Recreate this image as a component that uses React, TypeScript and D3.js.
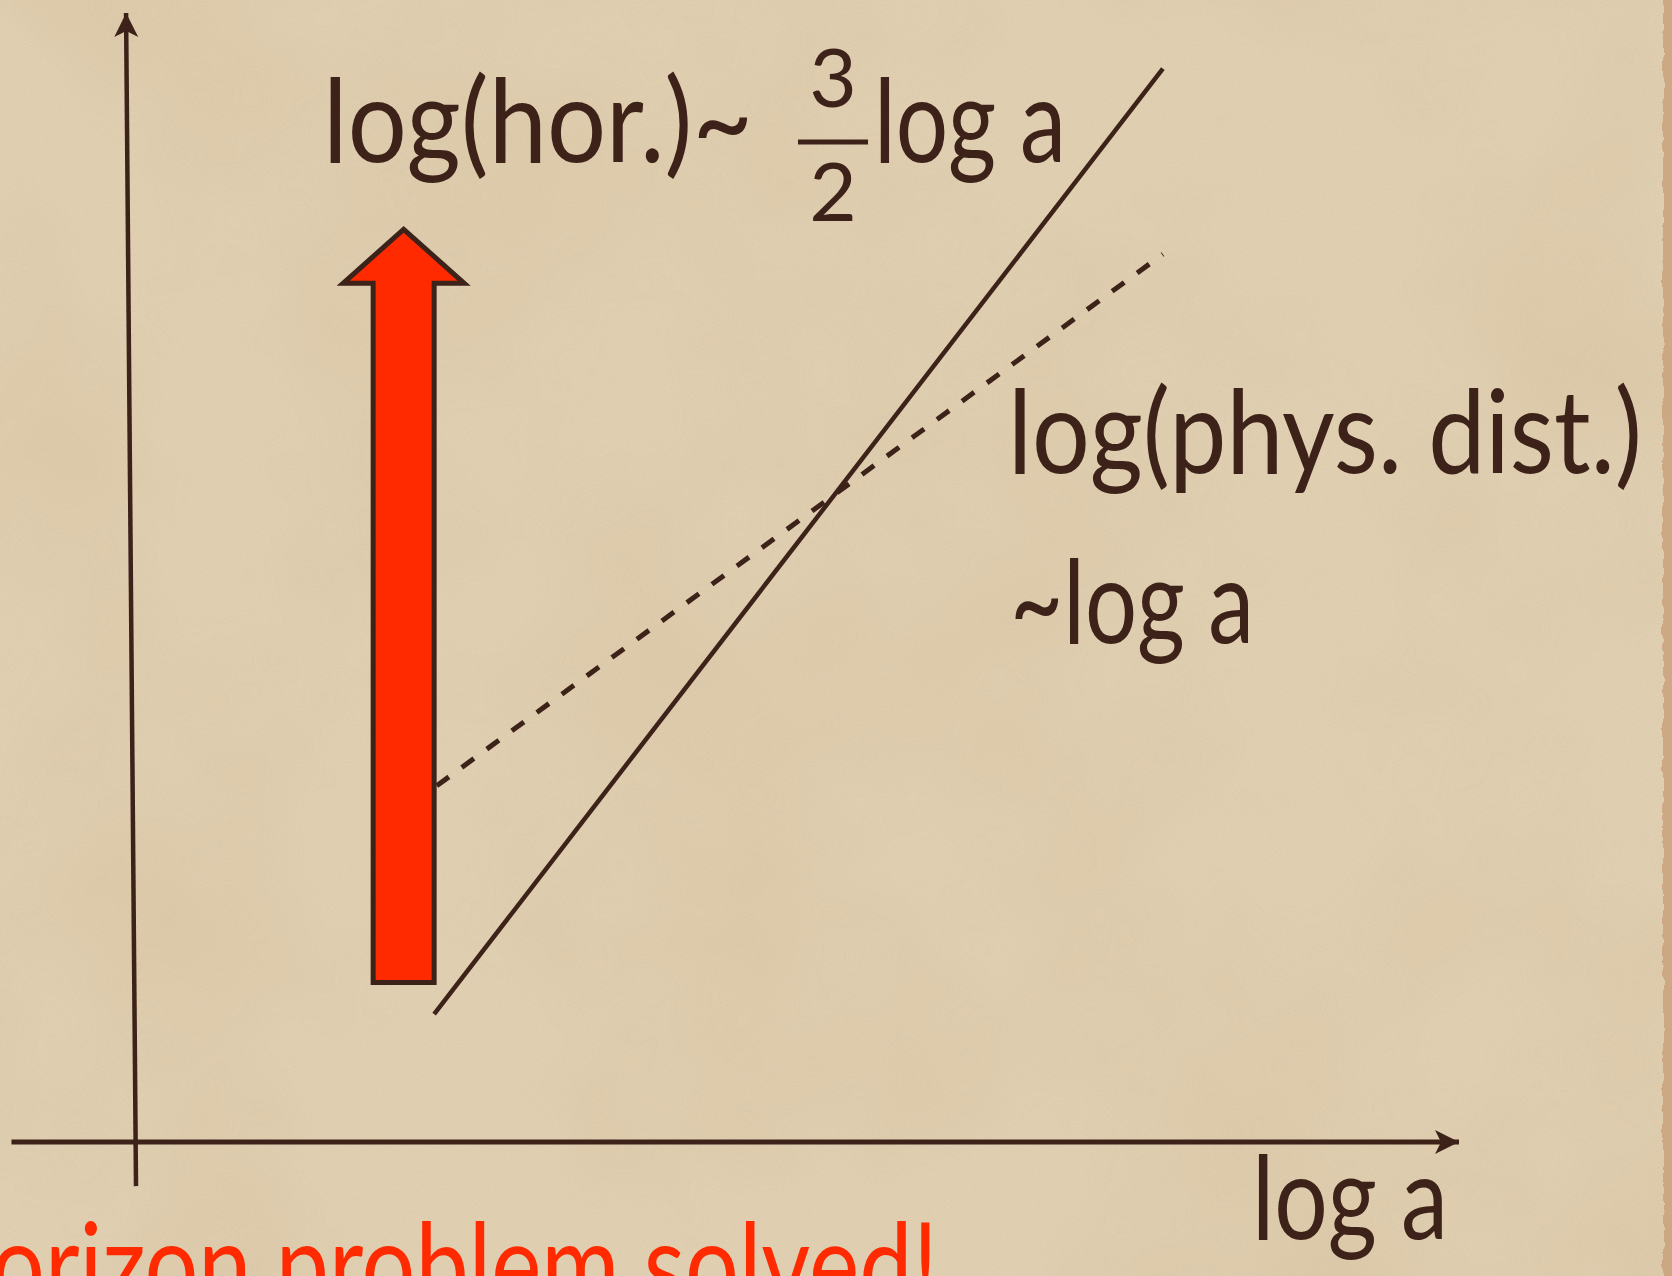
import React from "react";
import * as d3 from "d3";

// Scale factor a on a log axis; both distances on a log axis.
const xExtent = [-0.94, 10]; // log a axis, from left end to arrow tip
const yExtent = [-0.39, 10]; // log distance axis, from bottom end to arrow tip
const yAxisTopOffset = [-0.075]; // the vertical axis leans a little to the left at its tip

// log(horizon) ~ 3/2 log a
const horizonLine = [
  { loga: 2.25, v: 1.13 },
  { loga: 7.75, v: 9.49 },
];
// log(physical distance) ~ log a
const physLine = [
  { loga: 2.27, v: 3.15 },
  { loga: 7.75, v: 7.85 },
];
// inflation: horizon grows at fixed a
const inflationArrow = [{ loga: 2.02, from: 1.41, to: 8.07 }];

const W = 1672;
const H = 1276;
const INK = "#3d2219";
const RED = "#ff2a00";
const FONT = "Lato, 'Open Sans', 'DejaVu Sans', sans-serif";

export default function App() {
  const x = d3.scaleLinear().domain([0, 10]).range([136, 1461]);
  const y = d3.scaleLinear().domain([0, 10]).range([1142, 11]);

  const line = d3
    .line<{ loga: number; v: number }>()
    .x((d) => x(d.loga))
    .y((d) => y(d.v));

  const arrow = inflationArrow[0];
  const cx = x(arrow.loga);
  const shaftHalf = 30.5;
  const headHalf = 60.5;
  const headLen = 54;
  const yb = y(arrow.from);
  const yt = y(arrow.to);
  const arrowPath = d3.path();
  arrowPath.moveTo(cx - shaftHalf, yb);
  arrowPath.lineTo(cx - shaftHalf, yt + headLen);
  arrowPath.lineTo(cx - headHalf, yt + headLen);
  arrowPath.lineTo(cx, yt);
  arrowPath.lineTo(cx + headHalf, yt + headLen);
  arrowPath.lineTo(cx + shaftHalf, yt + headLen);
  arrowPath.lineTo(cx + shaftHalf, yb);
  arrowPath.closePath();

  const textStyle: React.CSSProperties = {
    fontFamily: FONT,
    fontWeight: 400,
    fill: INK,
  };

  return (
    <svg
      width={W}
      height={H}
      viewBox={`0 0 ${W} ${H}`}
      style={{ position: "absolute", left: 0, top: 0, display: "block" }}
    >
      <defs>
        <filter id="mottle" x="0" y="0" width="100%" height="100%">
          <feTurbulence type="fractalNoise" baseFrequency="0.0035" numOctaves="4" seed="7" />
          <feColorMatrix
            type="matrix"
            values="0 0 0 0 0.62  0 0 0 0 0.47  0 0 0 0 0.28  0 0 0 1.6 -0.62"
          />
        </filter>
        <filter id="grain" x="0" y="0" width="100%" height="100%">
          <feTurbulence type="fractalNoise" baseFrequency="0.55" numOctaves="2" seed="3" />
          <feColorMatrix
            type="matrix"
            values="0 0 0 0 0.5  0 0 0 0 0.4  0 0 0 0 0.3  0 0 0 0.9 -0.35"
          />
        </filter>
        <filter id="edge" x="-50%" y="0" width="200%" height="100%">
          <feTurbulence type="fractalNoise" baseFrequency="0.02 0.08" numOctaves="3" seed="11" result="n" />
          <feDisplacementMap in="SourceGraphic" in2="n" scale="6" />
        </filter>
        <marker
          id="tip"
          viewBox="-26 -13 28 26"
          markerWidth={28}
          markerHeight={26}
          refX={0}
          refY={0}
          orient="auto"
          markerUnits="userSpaceOnUse"
        >
          <path d="M0,0 L-24,-12 L-18,0 L-24,12 Z" fill={INK} />
        </marker>
      </defs>

      {/* parchment */}
      <rect width={W} height={H} fill="#e0cfb1" />
      <rect width={W} height={H} filter="url(#mottle)" opacity={0.3} />
      <rect width={W} height={H} filter="url(#grain)" opacity={0.25} />
      <rect x={1663} y={0} width={13} height={H} fill="#c59a72" opacity={0.7} filter="url(#edge)" />

      {/* axes */}
      <line
        x1={x(xExtent[0])}
        y1={y(0)}
        x2={x(xExtent[1]) - 2}
        y2={y(0)}
        stroke={INK}
        strokeWidth={5}
        markerEnd="url(#tip)"
      />
      <line
        x1={x(0)}
        y1={y(yExtent[0])}
        x2={x(yAxisTopOffset[0])}
        y2={y(yExtent[1]) + 2}
        stroke={INK}
        strokeWidth={4.5}
        markerEnd="url(#tip)"
      />

      {/* physical distance (dashed) */}
      <path
        d={line(physLine) || ""}
        fill="none"
        stroke={INK}
        strokeWidth={5}
        strokeDasharray="15 16"
      />

      {/* inflation arrow */}
      <path d={arrowPath.toString()} fill={RED} stroke={INK} strokeWidth={5} strokeLinejoin="miter" />

      {/* horizon */}
      <path d={line(horizonLine) || ""} fill="none" stroke={INK} strokeWidth={4.5} />

      {/* labels */}
      <text x={323} y={162} fontSize={116} style={textStyle} textLength={430} lengthAdjust="spacingAndGlyphs">
        log(hor.)~
      </text>
      <text x={833} y={107} fontSize={82} style={textStyle} textAnchor="middle">
        3
      </text>
      <line x1={798} x2={868} y1={142} y2={142} stroke={INK} strokeWidth={5} />
      <text x={833} y={221} fontSize={82} style={textStyle} textAnchor="middle">
        2
      </text>
      <text x={874} y={162} fontSize={116} style={textStyle} textLength={192} lengthAdjust="spacingAndGlyphs">
        log a
      </text>

      <text x={1008} y={473} fontSize={116} style={textStyle} textLength={634} lengthAdjust="spacingAndGlyphs">
        log(phys. dist.)
      </text>
      <text x={1010} y={643} fontSize={116} style={textStyle} textLength={244} lengthAdjust="spacingAndGlyphs">
        ~log a
      </text>

      <text x={1252} y={1239} fontSize={116} style={textStyle} textLength={196} lengthAdjust="spacingAndGlyphs">
        log a
      </text>

      <text
        x={-80}
        y={1306}
        fontSize={116}
        style={{ ...textStyle, fill: RED }}
        textLength={1018}
        lengthAdjust="spacingAndGlyphs"
      >
        Horizon problem solved!
      </text>
    </svg>
  );
}
